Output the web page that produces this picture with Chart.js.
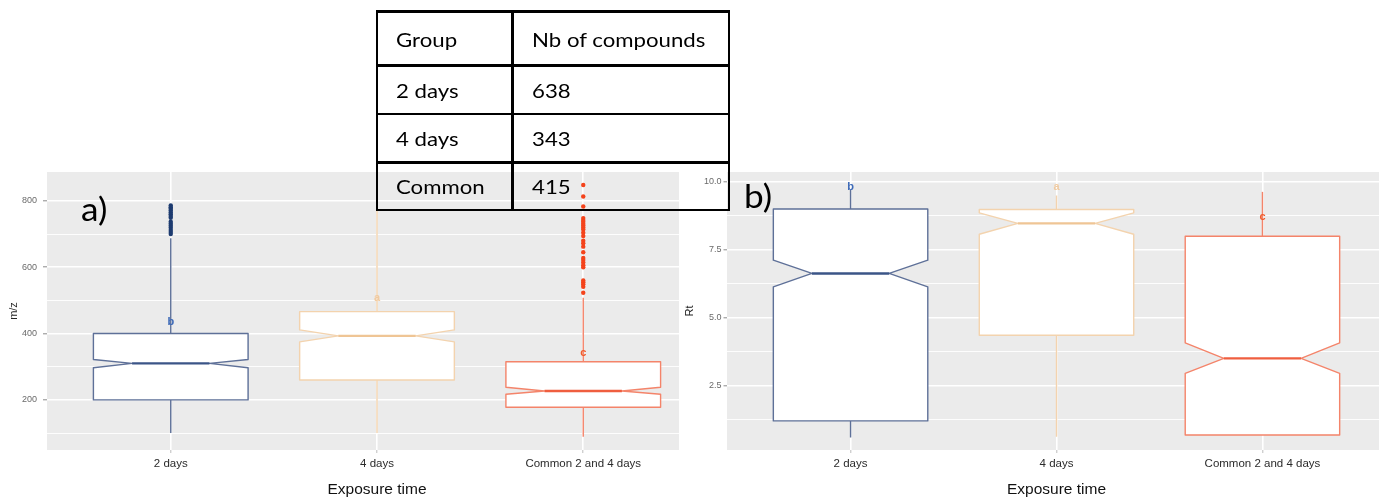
<!DOCTYPE html>
<html><head><meta charset="utf-8">
<script src="https://cdn.jsdelivr.net/npm/chart.js@4.4.1/dist/chart.umd.min.js"></script>
<style>
html,body{margin:0;padding:0;background:#fff;width:1379px;height:497px;overflow:hidden;}
#wrap{position:relative;width:1379px;height:497px;overflow:hidden;background:#fff;}
#cA{position:absolute;left:0;top:0;}
#cB{position:absolute;left:679px;top:0;}
.panel{position:absolute;font-family:Lato,'Open Sans',sans-serif;font-size:32px;color:#000;line-height:1;white-space:nowrap;transform:scaleX(1.1);transform-origin:left center;}
.tline{position:absolute;background:#000;}
.tcell{position:absolute;display:flex;align-items:center;font-family:Lato,'Open Sans',sans-serif;font-size:20px;color:#000;line-height:1;white-space:nowrap;transform:scaleX(1.11);transform-origin:left center;}
</style>
</head><body>
<div id="wrap">
<canvas id="cA" width="710" height="497"></canvas>
<canvas id="cB" width="720" height="497"></canvas>
<div class="panel" style="left:81px;top:193px;">a)</div>
<div class="panel" style="left:744px;top:180px;">b)</div>
<div id="tbl"></div>
</div>
<script>
// ---------- data ----------
const categories = ['2 days', '4 days', 'Common 2 and 4 days'];

// panel a : m/z
const mzQ1 = [200, 260, 178];
const mzMedian = [310, 393, 227];
const mzQ3 = [400, 466, 315];
const mzNotchLow = [297, 375, 217];
const mzNotchHigh = [322, 411, 238];
const mzWhiskerLow = [100, 100, 89];
const mzWhiskerHigh = [687, 770, 508];
const mzOutliers2days = [786, 781, 776, 771, 765, 760, 754, 749, 737, 731, 725, 719, 712, 706, 700];
const mzOutliersCommon = [848, 813, 783, 748, 742, 737, 731, 726, 720, 714, 704, 694, 680, 672, 662, 645, 628, 622, 614, 606, 600, 560, 555, 549, 541, 523];
const mzLetters = ['b', 'a', 'c'];
const mzLetterPos = [436, 507, 341];
const mzTicks = [100, 200, 300, 400, 500, 600, 700, 800];
const mzTickLabels = ['', '200', '', '400', '', '600', '', '800'];

// panel b : Rt
const rtQ1 = [1.21, 4.36, 0.69];
const rtMedian = [6.63, 8.47, 3.51];
const rtQ3 = [9.0, 8.98, 8.0];
const rtNotchLow = [6.14, 8.07, 2.96];
const rtNotchHigh = [7.12, 8.86, 4.08];
const rtWhiskerLow = [0.6, 0.63, 0.69];
const rtWhiskerHigh = [9.7, 9.5, 9.63];
const rtLetters = ['b', 'a', 'c'];
const rtLetterPos = [9.82, 9.82, 8.71];
const rtTicks = [1.25, 2.5, 3.75, 5, 6.25, 7.5, 8.75, 10];
const rtTickLabels = ['', '2.5', '', '5.0', '', '7.5', '', '10.0'];

// table
const tableHeader = ['Group', 'Nb of compounds'];
const tableGroups = ['2 days', '4 days', 'Common'];
const tableCounts = [638, 343, 415];

// ---------- styles ----------
const outlineColors = ['#5e7098', '#f3d3ae', '#f4846a'];
const medianColors = ['#3b5587', '#efc595', '#ef5e3f'];
const letterColors = ['#3d6ab8', '#f0caa0', '#ef5a2a'];
const outlierColors = ['#1d3b70', '#f0caa0', '#f4431b'];
const BOX_HALF = 0.375;
const AXIS_FONT = "'Liberation Sans', Arial, sans-serif";

function boxPlugin(st) {
  return {
    id: 'notchedBoxes',
    beforeDraw(chart) {
      const {ctx, chartArea: a} = chart;
      ctx.save();
      ctx.fillStyle = '#ffffff';
      ctx.fillRect(0, 0, chart.width, chart.height);
      ctx.fillStyle = '#ebebeb';
      ctx.fillRect(a.left, a.top, a.right - a.left, a.bottom - a.top);
      ctx.restore();
    },
    beforeDatasetsDraw(chart) {
      const {ctx, scales: {x, y}} = chart;
      const X = v => x.getPixelForValue(v), Y = v => y.getPixelForValue(v);
      ctx.save();
      st.q1.forEach((_, i) => {
        const c = i + 1, h = BOX_HALF;
        ctx.strokeStyle = outlineColors[i];
        ctx.lineWidth = 1.4;
        ctx.lineJoin = 'round';
        ctx.beginPath();
        ctx.moveTo(X(c), Y(st.q3[i])); ctx.lineTo(X(c), Y(st.wHigh[i]));
        ctx.moveTo(X(c), Y(st.q1[i])); ctx.lineTo(X(c), Y(st.wLow[i]));
        ctx.stroke();
        ctx.beginPath();
        ctx.moveTo(X(c - h), Y(st.q3[i]));
        ctx.lineTo(X(c + h), Y(st.q3[i]));
        ctx.lineTo(X(c + h), Y(st.nHigh[i]));
        ctx.lineTo(X(c + h / 2), Y(st.med[i]));
        ctx.lineTo(X(c + h), Y(st.nLow[i]));
        ctx.lineTo(X(c + h), Y(st.q1[i]));
        ctx.lineTo(X(c - h), Y(st.q1[i]));
        ctx.lineTo(X(c - h), Y(st.nLow[i]));
        ctx.lineTo(X(c - h / 2), Y(st.med[i]));
        ctx.lineTo(X(c - h), Y(st.nHigh[i]));
        ctx.closePath();
        ctx.fillStyle = '#ffffff';
        ctx.fill();
        ctx.stroke();
        ctx.strokeStyle = medianColors[i];
        ctx.lineWidth = 2.4;
        ctx.beginPath();
        ctx.moveTo(X(c - h / 2), Y(st.med[i])); ctx.lineTo(X(c + h / 2), Y(st.med[i]));
        ctx.stroke();
      });
      ctx.restore();
    },
    afterDatasetsDraw(chart) {
      const {ctx, scales: {x, y}} = chart;
      ctx.save();
      ctx.font = 'bold 11px ' + AXIS_FONT;
      ctx.textAlign = 'center';
      ctx.textBaseline = 'middle';
      st.letters.forEach((t, i) => {
        ctx.fillStyle = letterColors[i];
        ctx.fillText(t, x.getPixelForValue(i + 1), y.getPixelForValue(st.letterPos[i]));
      });
      ctx.restore();
    }
  };
}

function makeChart(id, st, yTicks, yLabels, yMin, yMax, yTitle, yTitlePad, yWidth, tickLen, tickPad, padRight, outlierSets) {
  const major = new Set(yTicks.filter((v, i) => yLabels[i] !== ''));
  return new Chart(document.getElementById(id), {
    type: 'scatter',
    data: {
      datasets: outlierSets.map(o => ({
        data: o.values.map(v => ({x: o.cat, y: v})),
        backgroundColor: o.color, borderWidth: 0, pointRadius: 2.2, pointHoverRadius: 2.2
      }))
    },
    options: {
      responsive: false, animation: false, events: [],
      layout: {padding: {top: 172, right: padRight, left: 0, bottom: 0}},
      plugins: {legend: {display: false}, tooltip: {enabled: false}},
      scales: {
        x: {
          type: 'linear', min: 0.4, max: 3.6,
          afterBuildTicks: s => { s.ticks = categories.map((c, i) => ({value: i + 1})); },
          afterFit: s => { s.height = 47; },
          border: {display: false},
          grid: {color: '#ffffff', lineWidth: 1.6, tickLength: 3, tickColor: '#bdbdbd', tickWidth: 1},
          ticks: {callback: v => categories[v - 1] || '', font: {family: AXIS_FONT, size: 11.5}, color: '#2b2b2b', padding: 4, maxRotation: 0, autoSkip: false},
          title: {display: true, text: 'Exposure time', font: {family: AXIS_FONT, size: 15.5, lineHeight: 1}, color: '#111', padding: {top: 0, bottom: 0}}
        },
        y: {
          type: 'linear', min: yMin, max: yMax,
          afterBuildTicks: s => { s.ticks = yTicks.map(v => ({value: v})); },
          afterFit: s => { s.width = yWidth; },
          border: {display: false},
          grid: {
            color: '#ffffff',
            lineWidth: c => (c.tick && major.has(c.tick.value)) ? 1.6 : 0.9,
            tickLength: tickLen,
            tickColor: c => (c.tick && major.has(c.tick.value)) ? '#8a8a8a' : 'rgba(0,0,0,0)',
            tickWidth: 1
          },
          ticks: {callback: (v, i) => yLabels[yTicks.indexOf(v)] || '', font: {family: AXIS_FONT, size: 9}, color: '#6a6a6a', padding: tickPad, autoSkip: false},
          title: {display: true, text: yTitle, font: {family: AXIS_FONT, size: 11, lineHeight: 1}, color: '#222', padding: {top: yTitlePad, bottom: 0}}
        }
      }
    },
    plugins: [boxPlugin(st)]
  });
}

makeChart('cA',
  {q1: mzQ1, med: mzMedian, q3: mzQ3, nLow: mzNotchLow, nHigh: mzNotchHigh, wLow: mzWhiskerLow, wHigh: mzWhiskerHigh, letters: mzLetters, letterPos: mzLetterPos},
  mzTicks, mzTickLabels, 49, 887, 'm/z', 8.5, 47, 4, 6, 3,
  [{cat: 1, values: mzOutliers2days, color: outlierColors[0]}, {cat: 3, values: mzOutliersCommon, color: outlierColors[2]}]);

makeChart('cB',
  {q1: rtQ1, med: rtMedian, q3: rtQ3, nLow: rtNotchLow, nHigh: rtNotchHigh, wLow: rtWhiskerLow, wHigh: rtWhiskerHigh, letters: rtLetters, letterPos: rtLetterPos},
  rtTicks, rtTickLabels, 0.14, 10.36, 'Rt', 5.5, 48, 3.5, 2, 13,
  []);

// ---------- table ----------
(function () {
  const tbl = document.getElementById('tbl');
  const rowsY = [11.5, 65.5, 114, 162.5, 210];
  const colsX = [377, 512.5, 729];
  const T = 2.8;
  rowsY.forEach(yy => {
    const d = document.createElement('div'); d.className = 'tline';
    d.style.cssText = `left:${colsX[0] - T / 2}px;top:${yy - T / 2}px;width:${colsX[2] - colsX[0] + T}px;height:${T}px;`;
    tbl.appendChild(d);
  });
  colsX.forEach(xx => {
    const d = document.createElement('div'); d.className = 'tline';
    d.style.cssText = `left:${xx - T / 2}px;top:${rowsY[0] - T / 2}px;width:${T}px;height:${rowsY[4] - rowsY[0] + T}px;`;
    tbl.appendChild(d);
  });
  const rows = [tableHeader].concat(tableGroups.map((g, i) => [g, String(tableCounts[i])]));
  rows.forEach((r, ri) => {
    r.forEach((txt, ci) => {
      const d = document.createElement('div'); d.className = 'tcell';
      d.style.cssText = `left:${colsX[ci] + 19}px;top:${rowsY[ri]}px;height:${rowsY[ri + 1] - rowsY[ri]}px;`;
      d.textContent = txt;
      tbl.appendChild(d);
    });
  });
})();
</script>
</body></html>
